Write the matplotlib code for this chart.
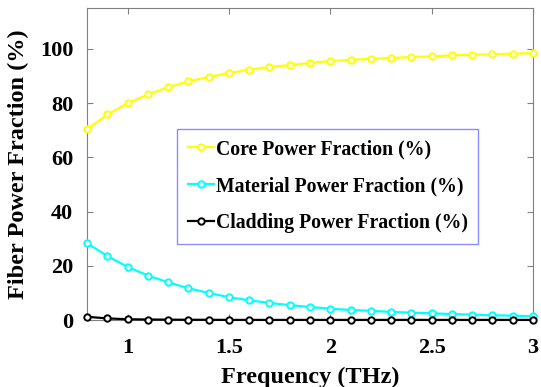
import matplotlib
matplotlib.use("Agg")
import matplotlib.pyplot as plt

# Data
freq = [0.8, 0.9, 1.0, 1.1, 1.2, 1.3, 1.4, 1.5, 1.6, 1.7, 1.8, 1.9,
        2.0, 2.1, 2.2, 2.3, 2.4, 2.5, 2.6, 2.7, 2.8, 2.9, 3.0]
core = [70.3, 75.8, 79.9, 83.2, 85.8, 88.0, 89.6, 91.1, 92.3, 93.3, 94.0, 94.8,
        95.5, 95.9, 96.3, 96.6, 97.0, 97.2, 97.6, 97.8, 98.0, 98.2, 98.4]
material = [28.3, 23.6, 19.6, 16.4, 13.9, 11.7, 10.0, 8.4, 7.3, 6.3, 5.5, 4.8,
            4.2, 3.7, 3.4, 3.0, 2.7, 2.5, 2.2, 2.0, 1.8, 1.6, 1.4]
cladding = [1.2, 0.6, 0.3, 0.2, 0.15, 0.1, 0.1, 0.05, 0.05, 0.05, 0.05, 0.05,
            0.05, 0.05, 0.05, 0.05, 0.05, 0.05, 0.05, 0.05, 0.05, 0.05, 0.05]

plt.rcParams['font.family'] = ['Liberation Serif', 'DejaVu Serif']
plt.rcParams['font.weight'] = 'bold'

fig = plt.figure(figsize=(5.41, 3.87), dpi=100)
ax = fig.add_axes([0.161, 0.173, 0.824, 0.806])

kw = dict(marker='o', markersize=4.6, markerfacecolor='white', markeredgewidth=1.4,
          linewidth=1.6, clip_on=False)
ax.plot(freq, core, color='#ffff00', label='Core Power Fraction (%)', zorder=3, **kw)
ax.plot(freq, material, color='#00ffff', label='Material Power Fraction (%)', zorder=3, **kw)
ax.plot(freq, cladding, color='black', label='Cladding Power Fraction (%)', zorder=4, **kw)

ax.set_xlim(0.8, 3)
ax.set_ylim(0, 115)
ax.set_xticks([1, 1.5, 2, 2.5, 3])
ax.set_xticklabels(['1', '1.5', '2', '2.5', '3'])
ax.set_yticks([0, 20, 40, 60, 80, 100])
ax.tick_params(direction='in', top=True, right=True, labelsize=16, length=4,
               color='#808080')
ax.tick_params(axis='x', pad=13)
ax.tick_params(axis='y', pad=10)
for s in ax.spines.values():
    s.set_color('#808080')

ax.set_xlabel('Frequency (THz)', fontsize=17.5, fontweight='bold', labelpad=6)
ax.set_ylabel('Fiber Power Fraction (%)', fontsize=17.5, fontweight='bold', labelpad=8)

leg = ax.legend(loc='upper left', bbox_to_anchor=(0.202, 0.614), fontsize=14.2,
                frameon=True, fancybox=False, edgecolor='#7070ff',
                handlelength=1.3, handletextpad=0.1, labelspacing=0.85,
                borderpad=0.55, borderaxespad=0)
leg.get_frame().set_linewidth(1)

fig.savefig('out.png', dpi=100)
